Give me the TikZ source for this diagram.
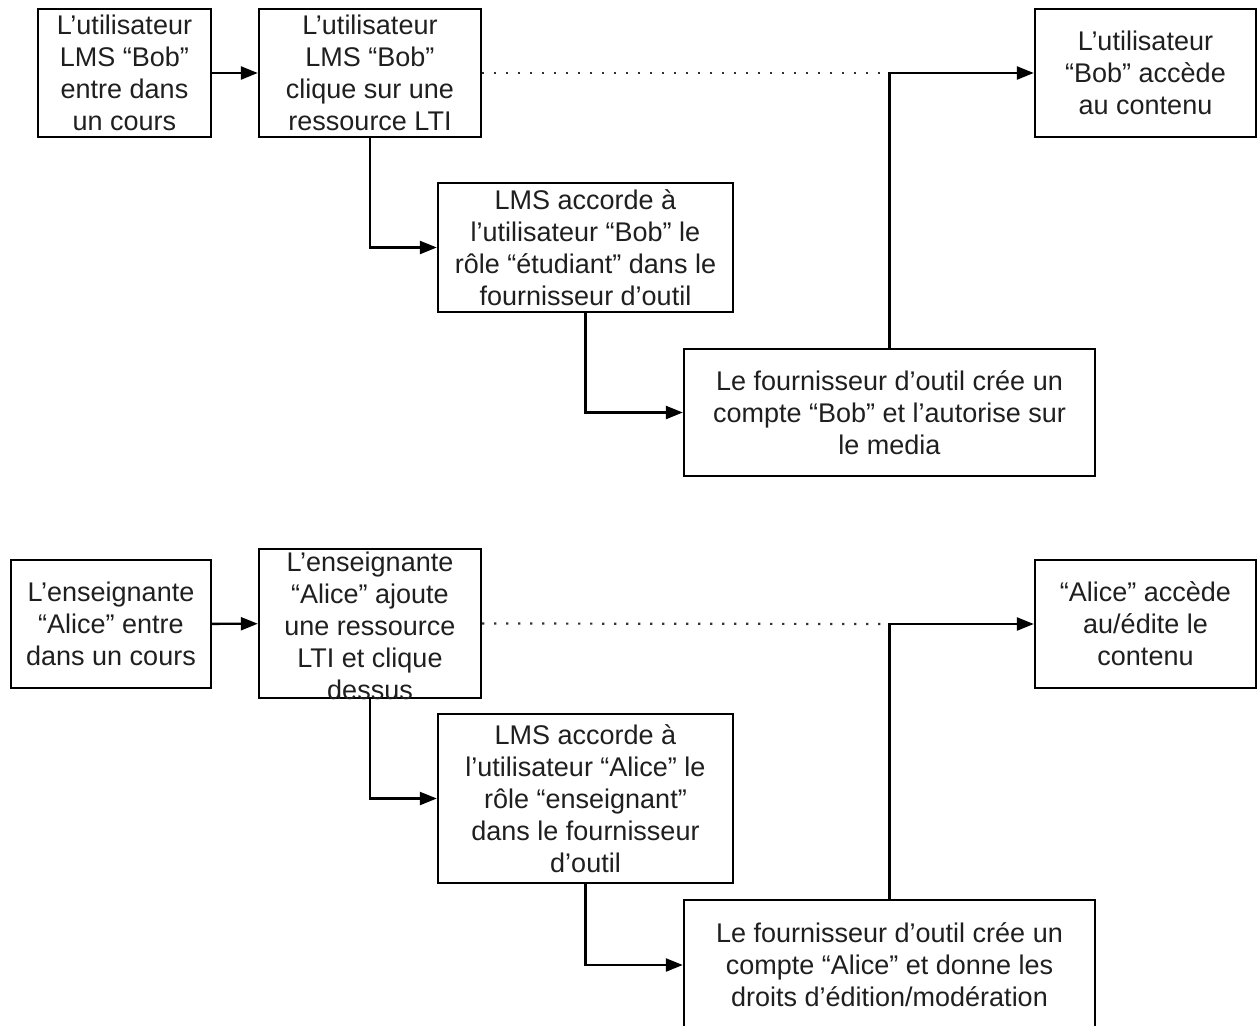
\documentclass[tikz,border=0pt]{standalone}
\usepackage{fontspec}
\setmainfont{Liberation Sans}
\usetikzlibrary{arrows.meta}
\tikzset{
  box/.style={draw, line width=2.4pt, inner sep=0pt, align=center,
    font=\fontsize{27}{32}\selectfont, text=black!88},
  txt/.style={inner sep=0pt, align=center, font=\fontsize{27}{32}\selectfont, text=black!88},
  arr/.style={line width=2.4pt, -{Triangle[length=17pt,width=13pt]}},
  dotline/.style={line width=2.2pt, dash pattern=on 2.2pt off 9.8pt, black!80},
}
\begin{document}
\begin{tikzpicture}[x=1pt,y=-1pt]
\clip (0,0) rectangle (1257,1025);
\fill[white] (0,0) rectangle (1257,1025);
% top flow
\node[box, minimum width=173, minimum height=128] (a1) at (124.5,73) {L’utilisateur\\LMS “Bob”\\entre dans\\un cours};
\node[box, minimum width=222, minimum height=128] (a2) at (370,73) {L’utilisateur\\LMS “Bob”\\clique sur une\\ressource LTI};
\node[box, minimum width=221, minimum height=128] (a3) at (1145.5,73) {L’utilisateur\\“Bob” accède\\au contenu};
\node[box, minimum width=295, minimum height=129] (a4) at (585.5,247.5) {LMS accorde à\\l’utilisateur “Bob” le\\rôle “étudiant” dans le\\fournisseur d’outil};
\node[box, minimum width=411, minimum height=127] (a5) at (889.5,412.5) {Le fournisseur d’outil crée un\\compte “Bob” et l’autorise sur\\le media};
\coordinate (ja) at (890,73);
\draw[arr] (a1) -- (a2);
\draw[dotline] (a2.east) -- (ja);
\draw[arr] (a5.north) |- (a3.west);
\draw[arr] (a2.south) |- (a4.west);
\draw[arr] (a4.south) |- (a5.west);
% bottom flow
\node[box, minimum width=200, minimum height=128] (b1) at (111,624) {L’enseignante\\“Alice” entre\\dans un cours};
\node[box, minimum width=222, minimum height=149] (b2) at (370,623.5) {};
\node[txt] (b2t) at (370,626) {L’enseignante\\“Alice” ajoute\\une ressource\\LTI et clique\\dessus};
\node[box, minimum width=221, minimum height=128] (b3) at (1145.5,624) {“Alice” accède\\au/édite le\\contenu};
\node[box, minimum width=295, minimum height=169] (b4) at (585.5,798.5) {LMS accorde à\\l’utilisateur “Alice” le\\rôle “enseignant”\\dans le fournisseur\\d’outil};
\node[box, minimum width=411, minimum height=130] (b5) at (889.5,965) {Le fournisseur d’outil crée un\\compte “Alice” et donne les\\droits d’édition/modération};
\coordinate (jb) at (890,624);
\draw[arr] (b1) -- (b2);
\draw[dotline] (b2.east) -- (jb);
\draw[arr] (b5.north) |- (b3.west);
\draw[arr] (b2.south) |- (b4.west);
\draw[arr] (b4.south) |- (b5.west);
\end{tikzpicture}
\end{document}
